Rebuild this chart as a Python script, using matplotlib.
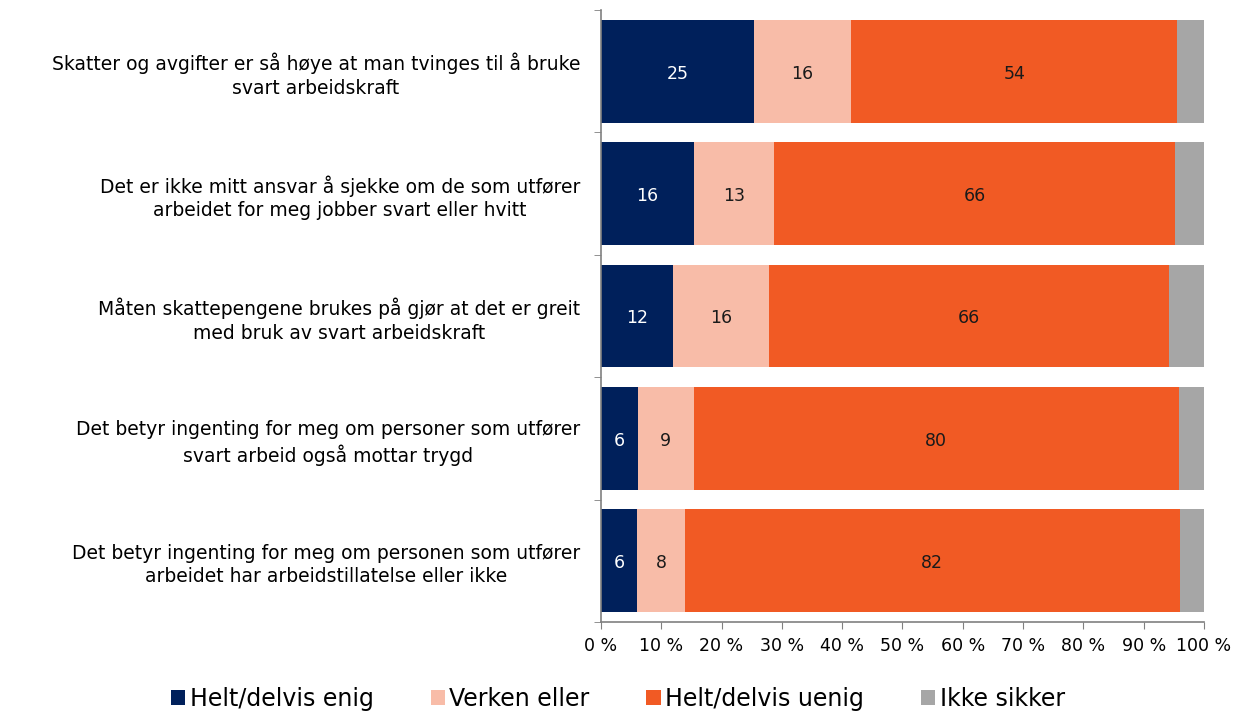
import matplotlib
matplotlib.use('Agg')
import matplotlib.pyplot as plt
import numpy as np

plt.rcParams['font.family'] = ['DejaVu Sans']

categories = [
    'Skatter og avgifter er så høye at man tvinges til å bruke\nsvart arbeidskraft',
    'Det er ikke mitt ansvar å sjekke om de som utfører\narbeidet for meg jobber svart eller hvitt',
    'Måten skattepengene brukes på gjør at det er greit\nmed bruk av svart arbeidskraft',
    'Det betyr ingenting for meg om personer som utfører\nsvart arbeid også mottar trygd',
    'Det betyr ingenting for meg om personen som utfører\narbeidet har arbeidstillatelse eller ikke',
]
series_names = ['Helt/delvis enig', 'Verken eller', 'Helt/delvis uenig', 'Ikke sikker']
enig = [25.4, 15.4, 11.9, 6.1, 6.0]
verken = [16.1, 13.3, 16.0, 9.3, 7.9]
uenig = [54.1, 66.5, 66.3, 80.4, 82.1]
ikke = [4.4, 4.8, 5.8, 4.2, 4.0]
shown = [[25, 16, 54], [16, 13, 66], [12, 16, 66], [6, 9, 80], [6, 8, 82]]

COLORS = ['#00205B', '#F8BCA8', '#F15A24', '#A6A6A6']
TEXT_COLORS = ['white', '#1a1a1a', '#1a1a1a']

fig = plt.figure(figsize=(12.36, 7.16), dpi=100)
ax = fig.add_axes([0.4862, 0.1313, 0.4879, 0.8547])

y = np.arange(len(categories))
left = np.zeros(len(categories))
for i, vals in enumerate([enig, verken, uenig, ikke]):
    vals = np.array(vals)
    ax.barh(y, vals, left=left, height=0.84, color=COLORS[i], label=series_names[i])
    if i < 3:
        for j in range(len(categories)):
            ax.text(left[j] + vals[j] / 2, y[j] + 0.02, str(shown[j][i]), ha='center', va='center',
                    fontsize=12.5, color=TEXT_COLORS[i])
    left += vals

ax.set_xlim(0, 100)
ax.set_ylim(len(categories) - 0.5, -0.5)
ax.set_xticks(np.arange(0, 101, 10))
ax.set_xticklabels(['{} %'.format(v) for v in range(0, 101, 10)], fontsize=12.5)
ax.set_yticks(y)
ax.set_yticklabels(categories, fontsize=13.5, multialignment='center', linespacing=1.3)
ax.set_yticks(np.arange(-0.5, len(categories)), minor=True)
ax.tick_params(axis='y', which='major', length=0, pad=15)
ax.tick_params(axis='y', which='minor', length=5, color='#808080')
ax.tick_params(axis='x', length=5, color='#808080', pad=6)

for s in ['top', 'right']:
    ax.spines[s].set_visible(False)
for s in ['left', 'bottom']:
    ax.spines[s].set_color('#808080')
    ax.spines[s].set_linewidth(1.2)

fig.legend(loc='lower center', bbox_to_anchor=(0.5, -0.022), ncol=4, frameon=False,
           fontsize=17, handlelength=0.6, handleheight=0.6, handletextpad=0.2,
           columnspacing=2.4)

fig.savefig('out.png', dpi=100)
